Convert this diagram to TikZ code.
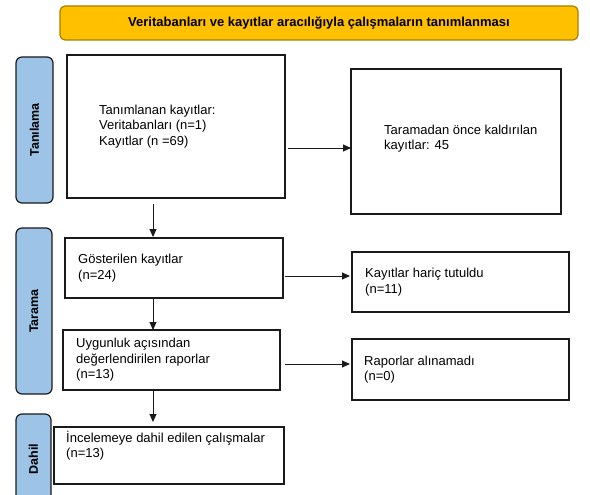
\documentclass[tikz,border=0pt]{standalone}
\usepackage{fontspec}
\setmainfont{Liberation Sans}
\usetikzlibrary{arrows.meta}
\definecolor{gold}{HTML}{FFC000}
\definecolor{goldline}{HTML}{A88000}
\definecolor{sideblue}{HTML}{9DC3E6}
\definecolor{ink}{HTML}{1A1A1A}
\tikzset{
  box/.style={draw=ink, line width=1.5pt, fill=white, inner sep=0pt, outer sep=0pt},
  side/.style={draw=ink, line width=1.2pt, fill=sideblue, rounded corners=6pt, inner sep=0pt, outer sep=0pt},
  sidetxt/.style={rotate=90, font=\bfseries\fontsize{12.5}{14}\selectfont, inner sep=0pt},
  txt/.style={align=left, inner sep=0pt, font=\fontsize{13}{15.5}\selectfont},
  arr/.style={draw=ink, line width=0.9pt, -{Triangle[length=8pt,width=7pt]}},
}
\begin{document}
\begin{tikzpicture}[x=1pt,y=-1pt]
\useasboundingbox (0,0) rectangle (590,495);
\clip (0,0) rectangle (590,495);
% title
\node[draw=goldline, line width=1.2pt, fill=gold, rounded corners=5pt, minimum width=518pt, minimum height=34pt, inner sep=0pt] (title) at (319,23) {};
\node[font=\bfseries\fontsize{13}{15}\selectfont, inner sep=0pt] (titletxt) at (title.center) {Veritabanları ve kayıtlar aracılığıyla çalışmaların tanımlanması};
% side bars
\node[side, minimum width=37pt, minimum height=146pt] (s1) at (34.5,130) {};
\node[sidetxt] (s1t) at (s1.center) {Tanılama};
\node[side, minimum width=36pt, minimum height=166pt] (s2) at (34,311) {};
\node[sidetxt] (s2t) at (s2.center) {Tarama};
\node[side, minimum width=35pt, minimum height=96pt] (s3) at (33.5,462) {};
\node[sidetxt] (s3t) at ([yshift=3pt]s3.center) {Dahil};
% boxes
\node[box, minimum width=218pt, minimum height=143pt] (b1) at (176,126.5) {};
\node[txt, anchor=west] (t1) at ([xshift=32pt]b1.west) {Tanımlanan kayıtlar:\\Veritabanları (n=1)\\Kayıtlar (n =69)};
\node[box, minimum width=210pt, minimum height=145pt] (b2) at (456,141.5) {};
\node[txt, anchor=west] (t2) at ([xshift=33pt, yshift=3pt]b2.west) {Taramadan önce kaldırılan\\kayıtlar: 45};
\node[box, minimum width=218pt, minimum height=60pt] (b3) at (174,268) {};
\node[txt, anchor=west] (t3) at ([xshift=13pt]b3.west) {Gösterilen kayıtlar\\(n=24)};
\node[box, minimum width=217pt, minimum height=60pt] (b4) at (171.5,360) {};
\node[txt, anchor=west] (t4) at ([xshift=13pt]b4.west) {Uygunluk açısından\\değerlendirilen raporlar\\(n=13)};
\node[box, minimum width=217pt, minimum height=60pt] (b5) at (460.5,282) {};
\node[txt, anchor=west] (t5) at ([xshift=13pt]b5.west) {Kayıtlar hariç tutuldu\\(n=11)};
\node[box, minimum width=217pt, minimum height=61pt] (b6) at (460.5,369.5) {};
\node[txt, anchor=west] (t6) at ([xshift=12pt]b6.west) {Raporlar alınamadı\\(n=0)};
\node[box, minimum width=230pt, minimum height=57pt] (b7) at (169,455.5) {};
\node[txt, anchor=north west] (t7) at ([xshift=12pt, yshift=-4pt]b7.north west) {İncelemeye dahil edilen çalışmalar\\(n=13)};
% connectors
\draw[arr] ([xshift=3pt]b1.east |- 0,148) -- (b2.west |- 0,148);
\draw[arr] ([xshift=2pt]b3.east |- 0,276) -- ([xshift=-2pt]b5.west |- 0,276);
\draw[arr] ([xshift=5pt]b4.east |- 0,364) -- ([xshift=-2pt]b6.west |- 0,364);
\draw[arr] ([xshift=-23pt, yshift=-6pt]b1.south) -- ([xshift=-21pt, yshift=1pt]b3.north);
\draw[arr] ([xshift=-21pt]b3.south) -- ([xshift=-18.5pt]b4.north);
\draw[arr] ([xshift=-18.5pt]b4.south) -- ([xshift=-16pt, yshift=5pt]b7.north);
\end{tikzpicture}
\end{document}
